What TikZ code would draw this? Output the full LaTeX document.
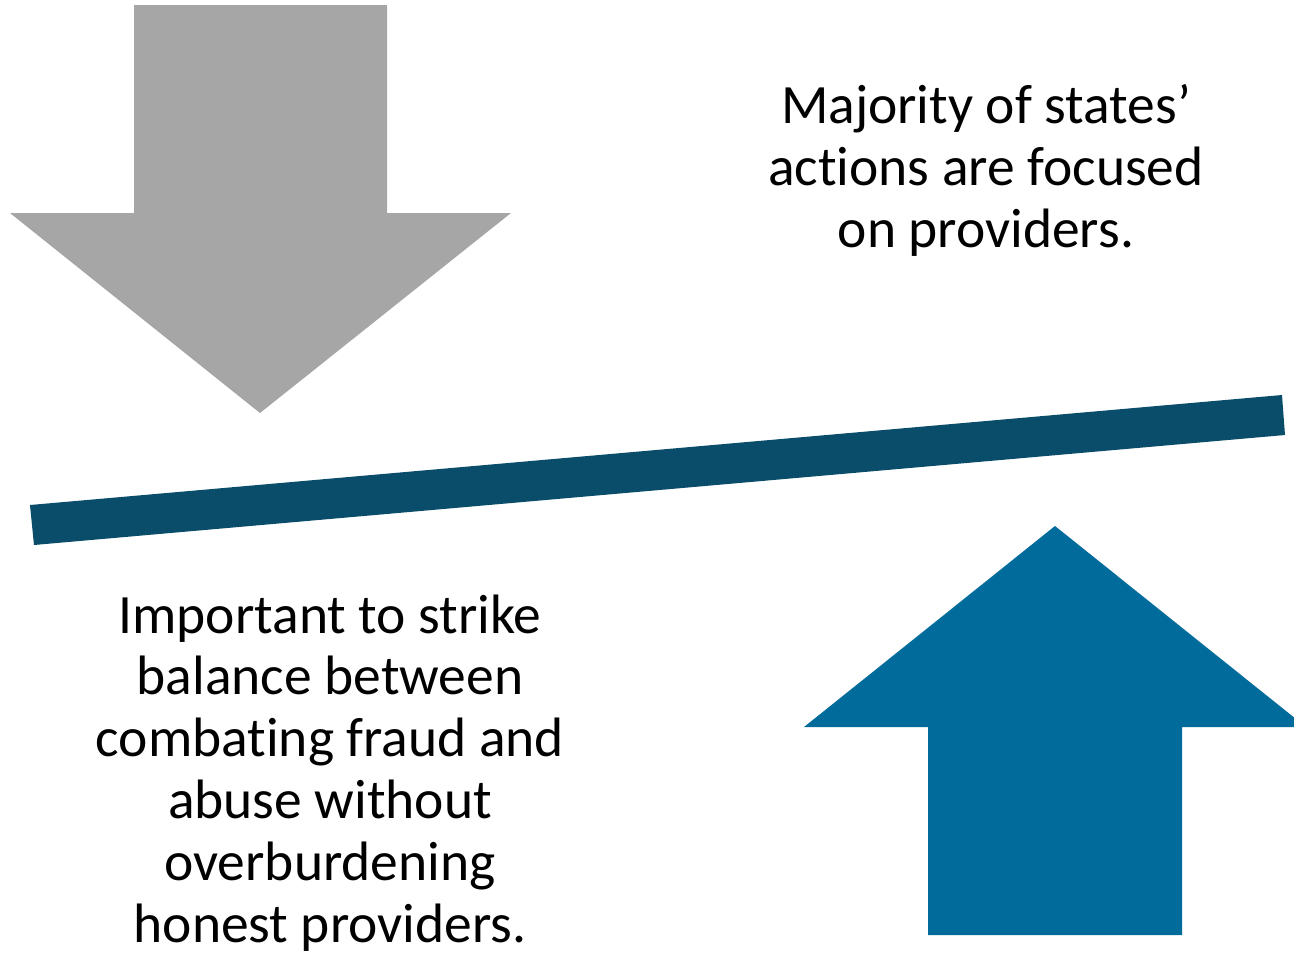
\documentclass[tikz,border=0pt]{standalone}
\usepackage{fontspec}
\setmainfont{Carlito}[Ligatures=NoCommon]

\definecolor{beamblue}{HTML}{0A4D6B}
\definecolor{pushblue}{HTML}{016C9B}
\definecolor{pushgray}{HTML}{A6A6A6}

\begin{document}
\begin{tikzpicture}
	[x=1pt,y=-1pt,
	 bigtext/.style={align=center,inner sep=0pt,font=\fontsize{55.5}{61.8}\selectfont},
	 downarrow/.style={fill=pushgray,draw=none},
	 uparrow/.style={fill=pushblue,draw=none},
	 beam/.style={fill=beamblue,draw=none}];
\useasboundingbox (0,0) rectangle (1294,954);

% down arrow (grey)
\fill[downarrow] (134,5) -- (387,5) -- (387,213) -- (511,213) -- (260,413)
	-- (10,213) -- (134,213) -- cycle;
% tilted beam
\fill[beam] (30,505) -- (1282,395) -- (1285,435) -- (34,545) -- cycle;
% up arrow (blue), head runs past the right edge
\begin{scope}
\clip (0,0) rectangle (1294,954);
\fill[uparrow] (1055,526) -- (1306,727) -- (1182,727) -- (1182,935)
	-- (928,935) -- (928,727) -- (804,727) -- cycle;
\end{scope}

% base anchor sits on the last line
\node[bigtext,anchor=base] (states) at (986,247)
	{Majority of states’\\actions are focused\\on providers.};
\node[bigtext,anchor=base] (balance) at (330,942)
	{Important to strike\\balance between\\combating fraud and\\abuse without\\overburdening\\honest providers.};
\end{tikzpicture}
\end{document}
